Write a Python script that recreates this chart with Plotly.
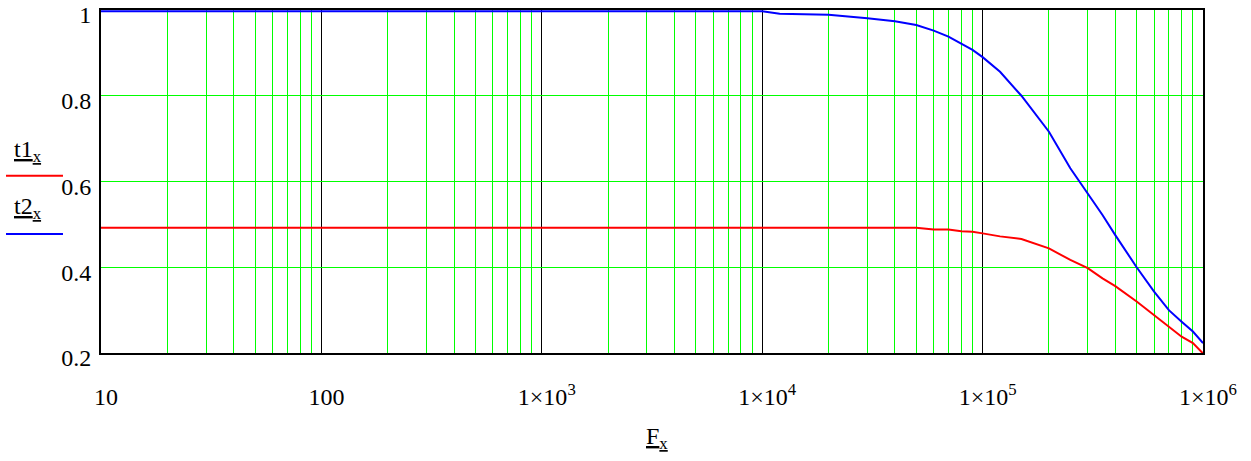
import plotly.graph_objects as go

# Frequencies (Hz) and the two curves
F = [10, 1e3, 1e4, 1.2e4, 2e4, 3e4, 4e4, 5e4, 6e4, 7e4, 8e4, 9e4, 1e5,
     1.2e5, 1.5e5, 2e5, 2.5e5, 3e5, 3.5e5, 4e5, 5e5, 6e5, 7e5, 8e5, 9e5, 1e6]
t1 = [0.492, 0.492, 0.492, 0.492, 0.492, 0.492, 0.492, 0.492, 0.488, 0.488, 0.484, 0.483, 0.479,
      0.472, 0.466, 0.444, 0.417, 0.398, 0.374, 0.356, 0.320, 0.289, 0.261, 0.238, 0.223, 0.199]
t2 = [0.997, 0.997, 0.997, 0.991, 0.989, 0.981, 0.974, 0.965, 0.952, 0.938, 0.922, 0.907, 0.890,
      0.856, 0.800, 0.716, 0.631, 0.572, 0.522, 0.475, 0.400, 0.343, 0.300, 0.273, 0.250, 0.223]

x_tickvals = [10, 100, 1e3, 1e4, 1e5, 1e6]
x_ticktext = ["10", "100", "1×10<sup>3</sup>", "1×10<sup>4</sup>", "1×10<sup>5</sup>", "1×10<sup>6</sup>"]
x_minor = [m * 10 ** d for d in range(1, 6) for m in range(2, 10)]
y_tickvals = [0.2, 0.4, 0.6, 0.8, 1.0]
y_ticktext = ["0.2", "0.4", "0.6", "0.8", "1"]

FONT = "'Liberation Serif', 'Times New Roman', Times, serif"

fig = go.Figure()
fig.add_trace(go.Scatter(x=F, y=t1, mode="lines", line=dict(color="#ff0000", width=2),
                         cliponaxis=False, showlegend=False))
fig.add_trace(go.Scatter(x=F, y=t2, mode="lines", line=dict(color="#0000ff", width=2),
                         cliponaxis=False, showlegend=False))

fig.update_xaxes(
    type="log", range=[1, 6], automargin=False,
    tickmode="array", tickvals=x_tickvals, ticktext=x_ticktext,
    showgrid=True, gridcolor="#000000", gridwidth=1,
    minor=dict(tickmode="array", tickvals=x_minor, showgrid=True,
               gridcolor="#00ff00", gridwidth=1, ticks=""),
    ticks="", ticklabelstandoff=21, ticklabelshift=5, ticklabeloverflow="allow",
    showline=True, linecolor="#000000", linewidth=2, mirror=True,
    zeroline=False, tickfont=dict(family=FONT, size=24, color="#000000"),
)
fig.update_yaxes(
    range=[0.2, 1.0], automargin=False, tickmode="array", tickvals=y_tickvals, ticktext=y_ticktext,
    showgrid=True, gridcolor="#00ff00", gridwidth=1,
    ticks="", ticklabelstandoff=3, ticklabelshift=5, ticklabeloverflow="allow",
    showline=True, linecolor="#000000", linewidth=2, mirror=True,
    zeroline=False, tickfont=dict(family=FONT, size=24, color="#000000"),
)

annots = [
    dict(text="<u>F</u><sub><u>x</u></sub>", x=0.5045, y=-0.248, xanchor="center", yanchor="middle"),
    dict(text="<u>t1</u><sub><u>x</u></sub>", x=-0.0808, y=0.589, xanchor="left", yanchor="middle"),
    dict(text="<u>t2</u><sub><u>x</u></sub>", x=-0.0808, y=0.423, xanchor="left", yanchor="middle"),
]
for a in annots:
    fig.add_annotation(xref="paper", yref="paper", showarrow=False,
                       font=dict(family=FONT, size=24, color="#000000"), **a)

fig.add_shape(type="line", xref="paper", yref="paper", x0=-0.0862, x1=-0.0345, y0=0.517, y1=0.517,
              line=dict(color="#ff0000", width=2))
fig.add_shape(type="line", xref="paper", yref="paper", x0=-0.0862, x1=-0.0345, y0=0.347, y1=0.347,
              line=dict(color="#0000ff", width=2))

fig.update_layout(
    width=1251, height=461,
    margin=dict(l=101, r=48, t=10, b=108, autoexpand=False),
    paper_bgcolor="#ffffff", plot_bgcolor="#ffffff",
    font=dict(family=FONT, size=24, color="#000000"),
    showlegend=False,
)

fig.write_html("out.html", post_script="document.body.style.margin='0px';",
               config={"displayModeBar": False})
